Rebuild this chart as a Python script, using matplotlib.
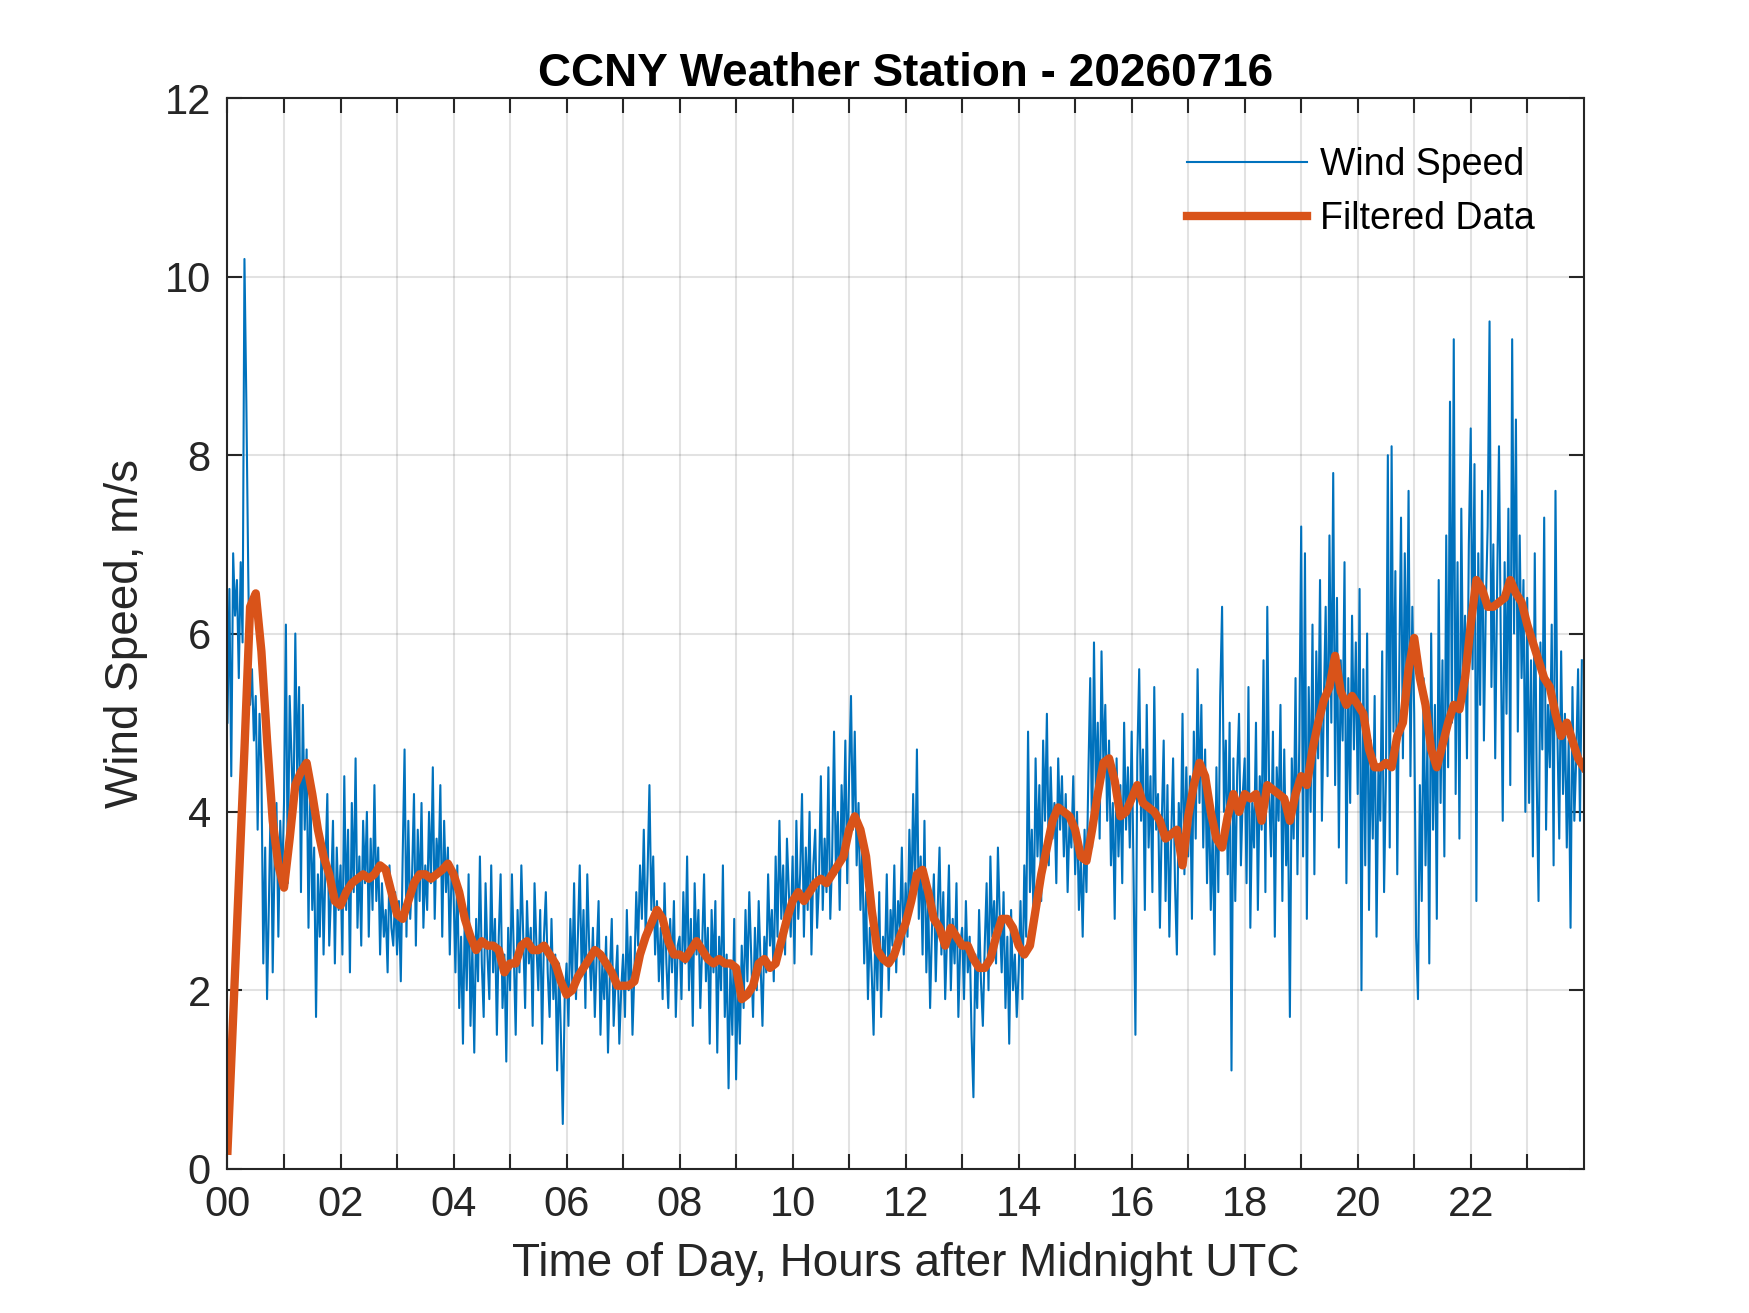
import numpy as np
import matplotlib.pyplot as plt

# raw wind speed, one value every 2 minutes (30 per hour), m/s
wind_speed = [
    5.0, 6.5, 4.4, 6.9, 6.2, 6.6, 5.5, 6.8, 5.9, 10.2, 8.6, 6.7, 5.2, 5.6, 4.8, 5.3, 3.8, 5.1, 4.5, 2.3, 3.6, 1.9, 3.0, 4.2, 2.2, 3.5, 4.1, 2.6, 3.9, 3.2,  # 00
    4.1, 6.1, 3.2, 5.3, 4.6, 3.9, 6.0, 4.4, 5.4, 3.1, 5.2, 3.8, 4.7, 2.7, 4.3, 2.9, 3.6, 1.7, 3.3, 2.6, 3.7, 2.4, 3.4, 4.2, 2.5, 3.1, 3.9, 2.3, 3.6, 2.9,  # 01
    3.4, 2.4, 4.4, 2.9, 3.8, 2.2, 4.1, 3.1, 4.6, 2.7, 3.5, 2.5, 3.9, 3.2, 4.0, 2.6, 3.7, 2.9, 4.3, 3.0, 3.6, 2.4, 3.2, 2.6, 2.9, 2.2, 3.4, 2.7, 2.5, 3.1,  # 02
    2.4, 3.0, 2.1, 3.5, 4.7, 2.6, 3.9, 2.8, 3.3, 4.2, 2.5, 3.8, 3.0, 4.1, 2.7, 3.4, 2.9, 4.0, 3.2, 4.5, 2.8, 3.7, 3.3, 4.3, 2.6, 3.9, 3.1, 3.6, 2.4, 3.4,  # 03
    3.1, 2.2, 3.4, 1.8, 2.6, 1.4, 2.9, 2.0, 3.3, 1.6, 2.5, 1.3, 2.8, 2.1, 3.5, 2.3, 1.7, 3.2, 2.4, 1.9, 3.4, 2.2, 2.8, 1.5, 2.6, 3.3, 1.8, 2.4, 1.2, 2.7,  # 04
    2.0, 3.3, 2.4, 1.5, 2.9, 2.2, 3.4, 2.6, 1.8, 3.0, 2.3, 2.7, 1.6, 3.2, 2.5, 2.0, 2.9, 1.4, 2.6, 3.1, 2.2, 1.7, 2.8, 1.9, 2.4, 1.1, 2.3, 1.5, 0.5, 1.9,  # 05
    2.3, 1.6, 2.8, 2.1, 3.2, 1.9, 2.6, 3.4, 2.2, 2.9, 1.8, 3.3, 2.5, 2.0, 2.7, 1.7, 2.4, 3.0, 1.5, 2.3, 1.9, 2.6, 1.3, 2.2, 2.8, 1.6, 2.1, 2.5, 1.4, 2.0,  # 06
    2.4, 1.7, 2.9, 2.0, 2.6, 1.5, 2.2, 3.1, 2.5, 3.4, 2.8, 3.8, 2.6, 3.3, 4.3, 2.9, 3.5, 2.4, 3.0, 2.1, 2.7, 1.9, 3.2, 2.3, 1.8, 2.8, 2.2, 3.0, 1.7, 2.5,  # 07
    2.6, 1.9, 3.1, 2.3, 3.5, 2.0, 2.8, 1.6, 3.2, 2.4, 2.9, 1.8, 2.5, 3.3, 2.1, 2.7, 1.4, 2.9, 2.2, 3.0, 1.3, 2.6, 2.0, 3.4, 1.7, 2.4, 0.9, 2.3, 1.5, 2.8,  # 08
    1.0, 2.2, 1.4, 2.5, 1.8, 2.9, 2.1, 3.1, 2.4, 1.7, 2.7, 2.0, 3.0, 2.3, 1.6, 2.6, 2.2, 3.3, 2.5, 2.9, 2.1, 3.5, 2.6, 3.9, 2.8, 3.4, 2.4, 3.7, 3.1, 2.6,  # 09
    3.5, 2.3, 3.9, 2.8, 3.3, 4.2, 2.6, 3.6, 2.9, 4.0, 2.4, 3.4, 3.8, 2.7, 3.2, 4.4, 2.9, 3.7, 3.1, 4.5, 2.8, 3.5, 4.9, 3.3, 4.0, 2.9, 4.3, 3.6, 4.8, 3.2,  # 10
    4.4, 5.3, 3.8, 4.9, 3.4, 4.1, 2.9, 3.6, 2.3, 3.1, 1.9, 2.7, 2.2, 1.5, 2.8, 2.0, 3.1, 1.7, 2.6, 2.3, 3.3, 2.0, 2.9, 2.5, 3.4, 2.2, 3.0, 2.7, 3.6, 2.4,  # 11
    3.2, 2.6, 3.8, 2.9, 4.2, 3.1, 4.7, 2.8, 3.5, 2.4, 3.9, 2.2, 3.0, 1.8, 2.7, 3.3, 2.1, 2.9, 3.6, 2.4, 3.1, 1.9, 2.6, 3.4, 2.0, 2.8, 2.3, 3.2, 1.7, 2.5,  # 12
    2.7, 1.9, 3.0, 2.2, 2.6, 1.5, 0.8, 2.4, 1.8, 2.9, 2.1, 1.6, 2.5, 3.2, 2.0, 3.5, 2.6, 3.0, 2.3, 3.6, 2.8, 2.2, 3.1, 1.8, 2.6, 1.4, 2.9, 2.0, 2.4, 1.7,  # 13
    2.2, 3.0, 1.9, 3.4, 2.6, 4.9, 3.1, 3.8, 2.7, 4.6, 3.5, 4.3, 3.0, 4.8, 3.9, 5.1, 3.4, 4.5, 3.7, 4.1, 3.2, 4.6, 3.8, 4.4, 3.5, 4.2, 3.1, 3.9, 3.6, 4.4,  # 14
    3.3, 4.0, 2.9, 3.5, 2.6, 3.8, 3.1, 4.4, 5.5, 3.6, 5.9, 4.2, 5.0, 3.7, 5.8, 4.5, 5.2, 3.9, 4.8, 3.4, 4.1, 2.8, 4.6, 3.5, 4.3, 3.2, 5.0, 3.8, 4.5, 3.6,  # 15
    4.9, 3.3, 1.5, 4.6, 5.6, 3.9, 4.7, 2.9, 5.2, 3.6, 4.4, 3.1, 5.4, 3.8, 4.2, 2.7, 3.9, 4.8, 3.0, 4.3, 2.6, 3.7, 4.6, 3.2, 2.4, 4.1, 3.5, 5.1, 3.3, 4.5,  # 16
    3.5, 4.4, 2.8, 4.9, 3.7, 5.6, 4.1, 5.2, 3.6, 4.7, 3.2, 4.3, 2.9, 3.8, 2.4, 4.5, 3.1, 5.3, 6.3, 4.0, 4.8, 3.3, 5.0, 1.1, 4.6, 3.0, 4.4, 5.1, 3.4, 4.2,  # 17
    4.6, 3.2, 5.4, 2.7, 4.1, 3.6, 5.0, 2.9, 4.4, 3.8, 5.7, 3.1, 6.3, 4.2, 3.5, 4.9, 2.6, 4.5, 3.9, 5.2, 3.0, 4.7, 3.4, 4.0, 1.7, 4.6, 3.7, 5.5, 3.3, 4.8,  # 18
    7.2, 3.5, 6.9, 2.8, 5.4, 4.0, 6.1, 3.3, 5.8, 4.6, 6.6, 3.9, 5.2, 6.3, 4.4, 7.1, 5.0, 7.8, 4.3, 6.4, 3.6, 5.7, 4.8, 6.8, 3.2, 5.5, 4.1, 6.2, 4.7, 5.9,  # 19
    4.2, 6.5, 2.0, 5.6, 3.4, 6.0, 2.9, 4.8, 3.7, 5.3, 2.6, 4.5, 3.9, 5.8, 3.1, 4.4, 8.0, 3.6, 8.1, 4.9, 6.7, 3.3, 5.5, 7.3, 4.6, 6.9, 5.2, 7.6, 4.4, 6.3,  # 20
    5.1, 2.6, 1.9, 4.3, 3.0, 5.5, 3.4, 4.8, 2.3, 6.0, 3.8, 5.2, 2.8, 6.6, 4.1, 5.7, 3.5, 7.1, 4.5, 8.6, 5.0, 9.3, 4.2, 6.8, 3.7, 7.4, 5.3, 6.2, 4.6, 7.0,  # 21
    8.3, 5.6, 7.9, 3.0, 6.9, 5.2, 7.6, 4.8, 6.3, 7.2, 9.5, 5.4, 7.0, 4.6, 6.5, 8.1, 5.8, 3.9, 6.8, 5.1, 7.4, 4.3, 9.3, 6.0, 8.4, 4.9, 7.1, 5.5, 6.6, 4.0,  # 22
    6.4, 4.1, 5.7, 3.5, 6.9, 4.4, 3.0, 5.9, 4.7, 7.3, 3.8, 5.2, 4.5, 6.1, 3.4, 7.6, 4.9, 3.7, 5.8, 4.2, 5.1, 3.6, 4.8, 2.7, 5.4, 3.9, 4.6, 5.6, 3.9, 5.7,  # 23
]

# filtered wind speed, one value every 0.1 hour
filtered = [
    0.2, 1.7, 3.2, 4.7, 6.3, 6.45, 5.8, 4.8, 3.9, 3.4,  # 00
    3.15, 3.7, 4.3, 4.45, 4.55, 4.2, 3.8, 3.5, 3.3, 3.0,  # 01
    2.95, 3.1, 3.2, 3.25, 3.3, 3.25, 3.3, 3.4, 3.35, 3.1,  # 02
    2.85, 2.8, 3.0, 3.2, 3.3, 3.3, 3.25, 3.3, 3.35, 3.42,  # 03
    3.3, 3.1, 2.8, 2.6, 2.45, 2.55, 2.5, 2.5, 2.45, 2.2,  # 04
    2.3, 2.3, 2.5, 2.55, 2.45, 2.45, 2.5, 2.4, 2.3, 2.1,  # 05
    1.95, 2.0, 2.15, 2.25, 2.35, 2.45, 2.4, 2.3, 2.2, 2.05,  # 06
    2.05, 2.05, 2.1, 2.4, 2.6, 2.75, 2.9, 2.8, 2.55, 2.4,  # 07
    2.4, 2.35, 2.45, 2.55, 2.45, 2.35, 2.3, 2.35, 2.3, 2.3,  # 08
    2.25, 1.9, 1.95, 2.05, 2.3, 2.35, 2.25, 2.3, 2.55, 2.8,  # 09
    3.0, 3.1, 3.0, 3.1, 3.2, 3.25, 3.2, 3.3, 3.4, 3.5,  # 10
    3.8, 3.95, 3.8, 3.5, 2.9, 2.45, 2.35, 2.3, 2.4, 2.6,  # 11
    2.75, 3.0, 3.3, 3.35, 3.1, 2.8, 2.7, 2.5, 2.7, 2.6,  # 12
    2.5, 2.5, 2.35, 2.25, 2.25, 2.35, 2.6, 2.8, 2.8, 2.7,  # 13
    2.5, 2.4, 2.5, 2.9, 3.3, 3.6, 3.9, 4.05, 4.0, 3.95,  # 14
    3.8, 3.5, 3.45, 3.8, 4.2, 4.55, 4.6, 4.35, 3.95, 4.0,  # 15
    4.15, 4.3, 4.1, 4.05, 4.0, 3.9, 3.7, 3.75, 3.8, 3.4,  # 16
    3.95, 4.3, 4.55, 4.4, 4.0, 3.7, 3.6, 3.95, 4.2, 4.0,  # 17
    4.2, 4.15, 4.2, 3.9, 4.3, 4.25, 4.2, 4.15, 3.9, 4.2,  # 18
    4.4, 4.3, 4.7, 5.0, 5.25, 5.4, 5.75, 5.35, 5.2, 5.3,  # 19
    5.2, 5.1, 4.7, 4.5, 4.5, 4.55, 4.5, 4.85, 5.0, 5.6,  # 20
    5.95, 5.5, 5.2, 4.7, 4.5, 4.75, 5.0, 5.2, 5.15, 5.5,  # 21
    6.1, 6.6, 6.5, 6.3, 6.3, 6.35, 6.4, 6.6, 6.45, 6.35,  # 22
    6.1, 5.9, 5.7, 5.5, 5.4, 5.1, 4.85, 5.0, 4.8, 4.6,  # 23
    4.5,
]

hour_ticks = list(range(0, 24))
hour_labels = ['%02d' % h if h % 2 == 0 else '' for h in hour_ticks]
y_ticks = [0, 2, 4, 6, 8, 10, 12]

t_raw = np.arange(len(wind_speed)) / 30.0
t_filt = np.arange(len(filtered)) * 0.1

plt.rcParams['font.family'] = ['Liberation Sans', 'DejaVu Sans']
ax_col = '#262626'

fig = plt.figure(figsize=(5.8333, 4.3767), dpi=300)
ax = fig.add_axes([0.13, 0.11, 0.775, 0.815])

ax.plot(t_raw, wind_speed, color='#0072BD', lw=0.5, label='Wind Speed')
ax.plot(t_filt, filtered, color='#D95319', lw=2, label='Filtered Data')

ax.set_xlim(0, 24)
ax.set_ylim(0, 12)
ax.set_xticks(hour_ticks)
ax.set_xticklabels(hour_labels)
ax.set_yticks(y_ticks)
ax.grid(True, color=ax_col, alpha=0.13, lw=0.5)
ax.set_axisbelow(True)
ax.tick_params(direction='in', length=3.5, width=0.5, colors=ax_col,
               labelsize=10, top=True, right=True, pad=4)
for s in ax.spines.values():
    s.set_color(ax_col)
    s.set_linewidth(0.5)

ax.set_title('CCNY Weather Station - 20260716', fontsize=11, fontweight='bold', pad=3)
ax.set_xlabel('Time of Day, Hours after Midnight UTC', fontsize=11, color=ax_col)
ax.set_ylabel('Wind Speed, m/s', fontsize=11, color=ax_col)

leg = ax.legend(loc='upper right', frameon=False, fontsize=9, handlelength=3.2,
                labelspacing=0.48, borderaxespad=0.9, handletextpad=0.35)

fig.savefig('out.png', dpi=300)
